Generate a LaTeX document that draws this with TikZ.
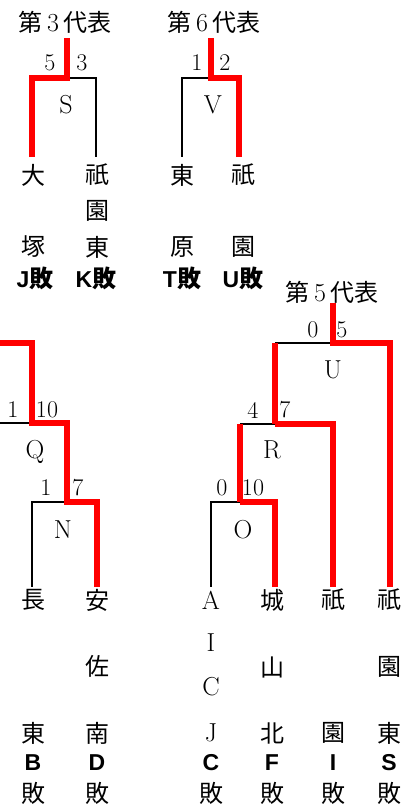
\documentclass[tikz,border=0pt]{standalone}
\usepackage{fontspec}
\newfontfamily\jp{Noto Sans CJK JP}
\newfontfamily\bsans{Liberation Sans}
\newcommand{\tdig}[1]{{\fontspec{Latin Modern Roman}\fontsize{26}{26}\selectfont\,#1\,}}
\begin{document}
\begin{tikzpicture}[x=1pt,y=-1pt,
  blk/.style={draw=black,line width=2pt},
  redl/.style={draw=red,line width=6.5pt,line join=miter},
  num/.style={inner sep=0pt,font=\fontsize{24}{24}\selectfont},
  let/.style={inner sep=0pt,font=\fontsize{26}{26}\selectfont},
  kj/.style={inner sep=0pt,font=\jp\fontsize{24}{24}\selectfont},
  lose/.style={inner sep=0pt,font=\bsans\bfseries\fontsize{23}{23}\selectfont},
  losej/.style={inner sep=0pt,font=\jp\fontsize{24}{24}\selectfont}]
\useasboundingbox (0,0) rectangle (416,807);
\begin{scope}
\clip (0,0) rectangle (416,807);
% coordinates
\coordinate (S) at (67,78); \coordinate (Stop) at (67,38);
\coordinate (Sa) at (32,157); \coordinate (Sb) at (96,157);
\coordinate (V) at (211,78); \coordinate (Vtop) at (211,38);
\coordinate (Va) at (182,157); \coordinate (Vb) at (239,157);
\coordinate (U) at (333,343); \coordinate (Utop) at (333,303);
\coordinate (Ul) at (275,343); \coordinate (Ub) at (390,587);
\coordinate (R) at (275,424); \coordinate (Rb) at (333,587);
\coordinate (O) at (240,502); \coordinate (Oa) at (211,587); \coordinate (Ob) at (275,587);
\coordinate (Q) at (32,423); \coordinate (Qa) at (-5,423); \coordinate (Qtop) at (-5,343);
\coordinate (N) at (67,502); \coordinate (Na) at (32,587); \coordinate (Nb) at (97,587);
% black lines
\draw[blk] (S) -| (Sb);
\draw[blk] (V) -| (Va);
\draw[blk] (U) -- (Ul);
\draw[blk] (O |- R) -- (R);
\draw[blk] (O) -| (Oa);
\draw[blk] (Qa) -- (Q);
\draw[blk] (N) -| (Na);
% red lines
\draw[redl] (Sa) |- (S) -- (Stop);
\draw[redl] (Vb) |- (V) -- (Vtop);
\draw[redl] (Ub) |- (U) -- (Utop);
\draw[redl] (R) -- (Ul);
\draw[redl] (Rb) |- (R);
\draw[redl] (O) -- (O |- R);
\draw[redl] (Ob) |- (O);
\draw[redl] (Nb) |- (N) |- (Q) |- (Qtop);
\end{scope}
% titles
\node[kj] (t3) at (65,22) {第\tdig{3}代表};
\node[kj] (t6) at (214,22) {第\tdig{6}代表};
\node[kj] (t5) at (332,292) {第\tdig{5}代表};
% scores and match letters
\node[num] (s5) at (50,63) {5}; \node[num] (s3) at (82,63) {3};
\node[let] (mS) at (66,105) {S};
\node[num] (v1) at (197,63) {1}; \node[num] (v2) at (225,63) {2};
\node[let] (mV) at (213,105) {V};
\node[num] (u0) at (313,330) {0}; \node[num] (u5) at (342,330) {5};
\node[let] (mU) at (333,370) {U};
\node[num] (q1) at (13,410) {1}; \node[num] (q10) at (47,410) {10};
\node[let] (mQ) at (35,452) {Q};
\node[num] (r4) at (253,410) {4}; \node[num] (r7) at (285,410) {7};
\node[let] (mR) at (272,450) {R};
\node[num] (n1) at (46,488) {1}; \node[num] (n7) at (78,488) {7};
\node[let] (mN) at (63,530) {N};
\node[num] (o0) at (222,488) {0}; \node[num] (o10) at (253,488) {10};
\node[let] (mO) at (243,530) {O};
% top teams
\node[kj] (a1) at (33,175) {大}; \node[kj] (a2) at (33,247) {塚};
\node[lose] (a3) at (35,278) {J{\jp\fontsize{24}{24}\selectfont 敗}};
\node[kj] (b1) at (97,175) {祇}; \node[kj] (b2) at (97,211) {園}; \node[kj] (b3) at (97,247) {東};
\node[lose] (b4) at (96,278) {K{\jp\fontsize{24}{24}\selectfont 敗}};
\node[kj] (c1) at (182,175) {東}; \node[kj] (c2) at (182,247) {原};
\node[lose] (c3) at (182,278) {T{\jp\fontsize{24}{24}\selectfont 敗}};
\node[kj] (d1) at (243,175) {祇}; \node[kj] (d2) at (243,247) {園};
\node[lose] (d3) at (243,278) {U{\jp\fontsize{24}{24}\selectfont 敗}};
% bottom teams
\node[kj] (e1) at (33,600) {長}; \node[kj] (e2) at (33,733) {東};
\node[lose] (e3) at (33,763) {B}; \node[losej] (e4) at (33,793) {敗};
\node[kj] (f1) at (97,600) {安}; \node[kj] (f2) at (97,666) {佐}; \node[kj] (f3) at (97,733) {南};
\node[lose] (f4) at (97,763) {D}; \node[losej] (f5) at (97,793) {敗};
\node[let] (g1) at (211,600) {A}; \node[let] (g2) at (211,643) {I};
\node[let] (g3) at (211,687) {C}; \node[let] (g4) at (211,733) {J};
\node[lose] (g5) at (211,763) {C}; \node[losej] (g6) at (211,793) {敗};
\node[kj] (h1) at (272,600) {城}; \node[kj] (h2) at (272,667) {山}; \node[kj] (h3) at (272,733) {北};
\node[lose] (h4) at (272,763) {F}; \node[losej] (h5) at (272,793) {敗};
\node[kj] (i1) at (333,600) {祇}; \node[kj] (i2) at (333,733) {園};
\node[lose] (i3) at (333,763) {I}; \node[losej] (i4) at (333,793) {敗};
\node[kj] (j1) at (389,600) {祇}; \node[kj] (j2) at (389,667) {園}; \node[kj] (j3) at (389,733) {東};
\node[lose] (j4) at (389,763) {S}; \node[losej] (j5) at (389,793) {敗};
\end{tikzpicture}
\end{document}
